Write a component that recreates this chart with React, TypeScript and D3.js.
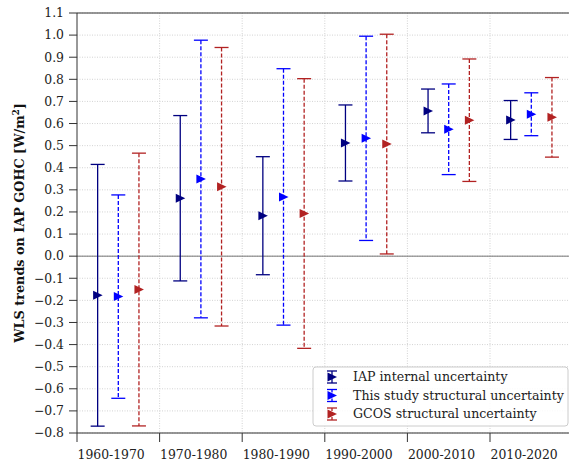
import React from "react";
import * as d3 from "d3";

const categories = ["1960-1970", "1970-1980", "1980-1990", "1990-2000", "2000-2010", "2010-2020"];
const iapCenter = [-0.177, 0.262, 0.183, 0.512, 0.657, 0.616];
const iapErr = [0.592, 0.374, 0.267, 0.172, 0.099, 0.088];
const studyCenter = [-0.183, 0.349, 0.268, 0.533, 0.574, 0.642];
const studyErr = [0.46, 0.628, 0.58, 0.462, 0.205, 0.097];
const gcosCenter = [-0.151, 0.314, 0.193, 0.507, 0.615, 0.628];
const gcosErr = [0.617, 0.63, 0.61, 0.497, 0.277, 0.18];
const yTicks = d3.range(-8, 12).map((v) => v / 10);

const series = [
  { name: "IAP internal uncertainty", color: "#000080", dash: "none", offset: 0.25, c: iapCenter, e: iapErr },
  { name: "This study structural uncertainty", color: "#0000ff", dash: "4,2", offset: 0.5, c: studyCenter, e: studyErr },
  { name: "GCOS structural uncertainty", color: "#b22222", dash: "4,2", offset: 0.75, c: gcosCenter, e: gcosErr },
];

const W = 569, H = 466;
const left = 77, top = 13, bottom = 433;
const step = 82.6;

export default function App() {
  const x = d3.scaleLinear().domain([0, 6]).range([left, left + 6 * step]);
  const y = d3.scaleLinear().domain([-0.8, 1.1]).range([bottom, top]);
  const font = "DejaVu Serif";
  const tri = (cx: number, cy: number) => `M${cx + 5},${cy} L${cx - 4.5},${cy - 4.5} L${cx - 4.5},${cy + 4.5} Z`;
  return (
    <svg width={W} height={H} style={{ position: "absolute", left: 0, top: 0, background: "#fff" }} fontFamily={font}>
      {/* grid */}
      {yTicks.map((t, i) => (
        <line key={"gy" + i} x1={left} x2={W} y1={y(t)} y2={y(t)} stroke="#c8c8c8" strokeWidth={0.8} strokeDasharray="1,1.5" />
      ))}
      {d3.range(1, 6).map((i) => (
        <line key={"gx" + i} x1={x(i)} x2={x(i)} y1={top} y2={bottom} stroke="#c8c8c8" strokeWidth={0.8} strokeDasharray="1,1.5" />
      ))}
      {/* zero line */}
      <line x1={left} x2={W} y1={y(0)} y2={y(0)} stroke="#555" strokeWidth={0.8} />
      {/* error bars */}
      {series.map((s) =>
        categories.map((_, i) => {
          const cx = x(i + s.offset);
          const y1 = y(s.c[i] + s.e[i]);
          const y2 = y(s.c[i] - s.e[i]);
          return (
            <g key={s.name + i}>
              <line x1={cx} x2={cx} y1={y1} y2={y2} stroke={s.color} strokeWidth={1.3} strokeDasharray={s.dash} />
              <line x1={cx - 7} x2={cx + 7} y1={y1} y2={y1} stroke={s.color} strokeWidth={1.3} />
              <line x1={cx - 7} x2={cx + 7} y1={y2} y2={y2} stroke={s.color} strokeWidth={1.3} />
              <path d={tri(cx, y(s.c[i]))} fill={s.color} />
            </g>
          );
        })
      )}
      {/* spines */}
      <line x1={left} x2={left} y1={top} y2={bottom} stroke="#333" strokeWidth={1} />
      <line x1={left} x2={W} y1={bottom} y2={bottom} stroke="#333" strokeWidth={1} />
      <line x1={left} x2={W} y1={top} y2={top} stroke="#333" strokeWidth={1} />
      {/* y ticks */}
      {yTicks.map((t, i) => (
        <g key={"yt" + i}>
          <line x1={left - 8} x2={left} y1={y(t)} y2={y(t)} stroke="#333" strokeWidth={1} />
          <text x={left - 13} y={y(t)} dy="0.35em" textAnchor="end" fontSize={12.4} fill="#222">
            {d3.format(".1f")(t).replace("-", "\u2212")}
          </text>
        </g>
      ))}
      {/* x ticks */}
      {categories.map((c, i) => (
        <g key={"xt" + i}>
          <line x1={x(i)} x2={x(i)} y1={bottom} y2={bottom + 9} stroke="#333" strokeWidth={1} />
          <text x={x(i) + 0.5} y={bottom + 22} dy="0.35em" textAnchor="start" fontSize={12.4} fill="#222">
            {c}
          </text>
        </g>
      ))}
      {/* y label */}
      <text transform={`translate(23.5,${(top + bottom) / 2}) rotate(-90)`} textAnchor="middle" fontSize={12.8} fontWeight="bold" fill="#111">
        WLS trends on IAP GOHC [W/m<tspan dy="-5" fontSize={8.5}>2</tspan><tspan dy="5">]</tspan>
      </text>
      {/* legend */}
      <g>
        <rect x={313} y={367} width={255} height={59} rx={3} fill="#fff" fillOpacity={0.85} stroke="#ccc" strokeWidth={1} />
        {series.map((s, i) => {
          const cy = 377 + i * 18.5;
          const lx = 332;
          return (
            <g key={"lg" + i}>
              <line x1={lx} x2={lx} y1={cy - 6} y2={cy + 6} stroke={s.color} strokeWidth={1.3} strokeDasharray={s.dash === "none" ? "none" : "3,1.5"} />
              <line x1={lx - 5} x2={lx + 5} y1={cy - 6} y2={cy - 6} stroke={s.color} strokeWidth={1.3} />
              <line x1={lx - 5} x2={lx + 5} y1={cy + 6} y2={cy + 6} stroke={s.color} strokeWidth={1.3} />
              <path d={tri(lx, cy)} fill={s.color} />
              <text x={353} y={cy} dy="0.35em" fontSize={12.6} fill="#222">{s.name}</text>
            </g>
          );
        })}
      </g>
    </svg>
  );
}
